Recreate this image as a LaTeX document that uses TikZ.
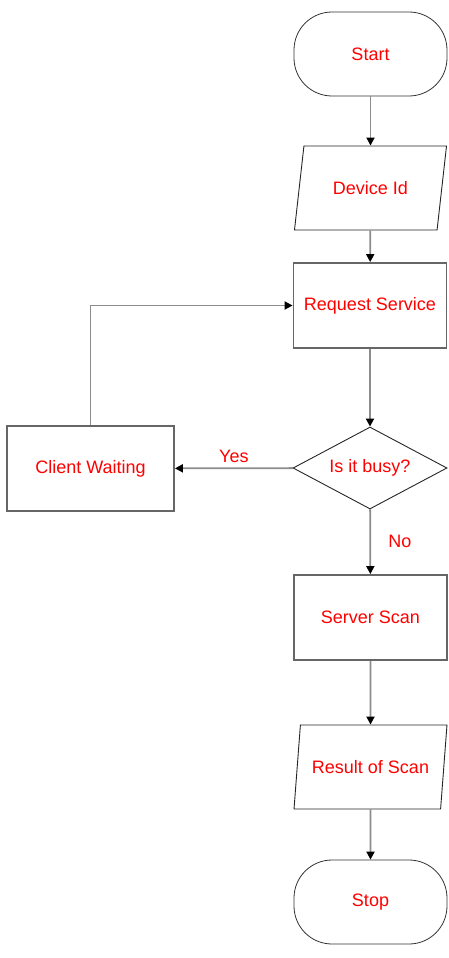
\documentclass[tikz,border=0pt]{standalone}
\usepackage{fontspec}
\setmainfont{Liberation Sans}
\usetikzlibrary{shapes.geometric,arrows.meta}
\begin{document}
\begin{tikzpicture}[x=1pt, y=-1pt]
        \tikzstyle{txt} = [text=red, font=\fontsize{18}{21}\selectfont]
        \tikzstyle{term} = [txt, draw=black!80, line width=0.8pt, rounded corners=38pt, minimum width=153pt, minimum height=84pt]
        \tikzstyle{procbox} = [txt, draw=black!60, line width=1.8pt, minimum width=153pt, minimum height=85pt]
        \tikzstyle{iobox} = [txt, draw=black!85, line width=0.9pt, trapezium, trapezium left angle=75, trapezium right angle=105, trapezium stretches=true, inner xsep=0pt, minimum width=153pt, minimum height=84pt]
        \tikzstyle{decide} = [txt, draw=black!85, line width=0.9pt, diamond, aspect=1.88, inner sep=0pt, minimum width=154pt, minimum height=82pt]
        \tikzstyle{blk} = [draw=black!45, line width=1.8pt, -{Triangle[color=black, length=8pt, width=8pt]}]
        \useasboundingbox (0, 0) rectangle (449, 958);

        \node[term] (start) at (370.5, 54) {Start};
        \node[iobox] (device) at (370.5, 188) {Device Id};
        \node[procbox] (request) at (370, 305.5) {Request Service};
        \node[decide] (busy) at (370, 468) {Is it busy?};
        \node[procbox, minimum width=167pt] (client) at (90.5, 468.5) {Client Waiting};
        \node[procbox] (server) at (370.5, 617.5) {Server Scan};
        \node[iobox] (result) at (370.5, 767) {Result of Scan};
        \node[term] (stop) at (370.5, 902) {Stop};

        \path[blk] (start) to (device);
        \path[blk] (device) to (request);
        \path[blk] (request) to (busy);
        \path[blk] (busy) to node[txt, above, yshift=1pt] {Yes} (client);
        \path[blk] (busy) to node[txt, right, xshift=14pt] {No} (server);
        \path[blk] (client.north) |- (request.west);
        \path[blk] (server) to (result);
        \path[blk] (result) to (stop);
    \end{tikzpicture}
\end{document}
